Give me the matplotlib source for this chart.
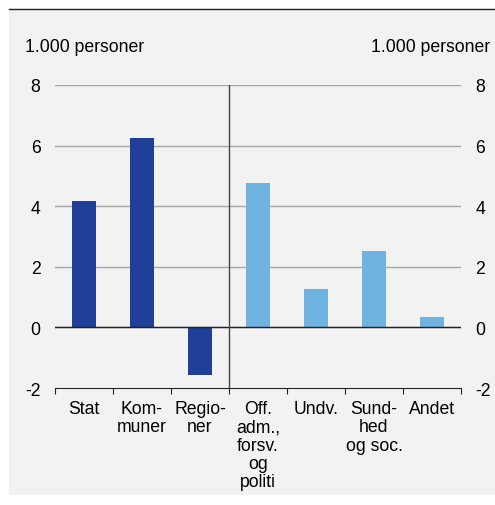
import numpy as np
import matplotlib.pyplot as plt
from matplotlib.patches import Rectangle

plt.rcParams['font.family'] = ['Liberation Sans', 'DejaVu Sans']

categories = ["Stat", "Kom-\nmuner", "Regio-\nner", "Off.\nadm.,\nforsv.\nog\npoliti",
              "Undv.", "Sund-\nhed\nog soc.", "Andet"]
values = [4.16, 6.25, -1.58, 4.75, 1.27, 2.52, 0.35]
bar_colors = ["#1f3f99"] * 3 + ["#6fb3e0"] * 4
yticks = [-2, 0, 2, 4, 6, 8]
unit = "1.000 personer"

fs = 12.7

fig = plt.figure(figsize=(4.95, 5.06), dpi=100)
fig.patches.append(Rectangle((9 / 495, 10 / 506), 1, 486 / 506, transform=fig.transFigure,
                             facecolor="#f2f2f2", edgecolor="none", zorder=-10))
fig.add_artist(plt.Line2D([9 / 495, 1], [1 - 10 / 506, 1 - 10 / 506], color="#222222", lw=1))

ax = fig.add_axes([55 / 495, 1 - 389 / 506, 406 / 495, 303 / 506])
ax.set_facecolor("none")
x = np.arange(len(categories))
ax.bar(x, values, width=0.40, color=bar_colors, zorder=3)
ax.set_xlim(-0.5, len(categories) - 0.5)
ax.set_ylim(-2, 8)
ax.set_yticks(yticks)
ax.set_yticklabels([str(t) for t in yticks], fontsize=fs)
for t in yticks[1:]:
    ax.axhline(t, color="#a6a6a6", lw=1, zorder=1)
ax.axhline(0, color="#222222", lw=1, zorder=4)
ax.axvline(2.5, color="#444444", lw=1, zorder=4)
for s in ["top", "right", "left"]:
    ax.spines[s].set_visible(False)
ax.spines["bottom"].set_color("#222222")
ax.tick_params(axis="y", length=0, pad=10.5, labelright=True, right=False)

ax.set_xticks(np.arange(-0.5, len(categories)), minor=False)
ax.set_xticklabels([])
ax.tick_params(axis="x", length=4, direction="out", color="#222222")
for xi, lab in zip(x, categories):
    ax.text(xi, -2.4, lab, ha="center", va="top", fontsize=fs, linespacing=1.1)

fig.text(25 / 495, 1 - 48 / 506, unit, ha="left", va="center", fontsize=fs)
fig.text(490 / 495, 1 - 48 / 506, unit, ha="right", va="center", fontsize=fs)

fig.savefig("out.png", dpi=100)
